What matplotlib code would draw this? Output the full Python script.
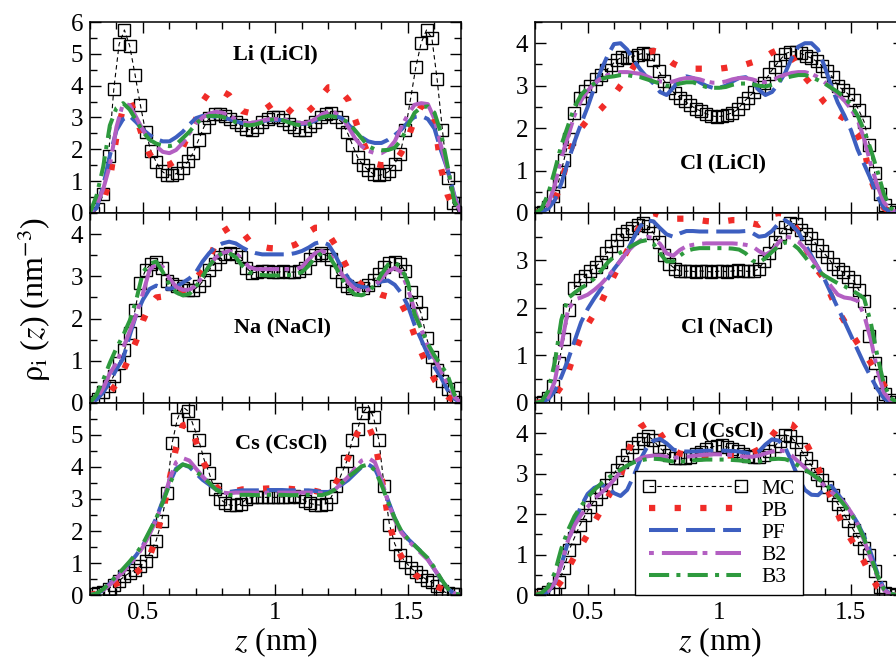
import numpy as np
import matplotlib
matplotlib.use("Agg")
import matplotlib.pyplot as plt
from matplotlib.ticker import MultipleLocator, FuncFormatter

# z grids (nm): MC histogram bins and theory curves
z_mc = np.round(0.31 + 0.02 * np.arange(70), 3)
z_th = np.round(0.30 + 0.025 * np.arange(57), 3)

# ---------------- Li (LiCl) ----------------
li_mc = [0.0, 0.12, 0.6, 1.8, 3.9, 5.3, 5.75, 5.25, 4.35, 3.4,
         2.55, 1.95, 1.6, 1.32, 1.2, 1.19, 1.25, 1.42, 1.62, 1.9,
         2.3, 2.7, 2.98, 3.12, 3.12, 3.05, 2.95, 2.85, 2.75, 2.65,
         2.6, 2.7, 2.85, 2.95, 3.0, 3.0, 2.92, 2.8, 2.7, 2.62,
         2.62, 2.72, 2.85, 3.0, 3.12, 3.15, 3.0, 2.85, 2.55, 2.15,
         1.75, 1.5, 1.35, 1.22, 1.18, 1.22, 1.32, 1.55, 1.85, 2.6,
         3.6, 4.6, 5.35, 5.75, 5.5, 4.2, 2.6, 1.1, 0.3, 0.02]
li_pb = [0.0, 0.05, 0.35, 1.05, 2.4, 3.3, 3.55, 3.0, 2.35, 1.85,
         1.58, 1.5, 1.52, 1.65, 2.05, 2.55, 2.95, 3.5, 3.8, 3.85,
         3.82, 3.7, 3.4, 3.2, 3.15, 3.15, 3.2, 3.35, 3.5, 3.45,
         3.25, 3.05, 3.05, 3.2, 3.4, 3.7, 3.95, 3.95, 3.8, 3.55,
         2.95, 2.35, 1.85, 1.55, 1.5, 1.52, 1.6, 1.9, 2.35, 2.95,
         3.35, 3.42, 2.9, 1.4, 0.55, 0.12, 0.0]
li_pf = [0.0, 0.15, 0.85, 1.8, 2.6, 2.95, 3.05, 2.85, 2.62, 2.45,
         2.32, 2.25, 2.25, 2.38, 2.55, 2.78, 2.98, 3.05, 3.05, 3.02,
         3.0, 2.95, 2.88, 2.82, 2.8, 2.82, 2.88, 2.92, 2.92, 2.92,
         2.88, 2.82, 2.8, 2.82, 2.9, 3.0, 3.05, 3.05, 2.98, 2.78,
         2.55, 2.38, 2.25, 2.2, 2.2, 2.3, 2.45, 2.62, 2.85, 3.02,
         3.05, 2.95, 2.65, 1.95, 1.35, 0.55, 0.0]
li_b2 = [0.0, 0.25, 0.75, 1.5, 2.7, 3.45, 3.38, 3.0, 2.6, 2.3,
         2.1, 1.92, 1.88, 1.98, 2.2, 2.5, 2.8, 3.0, 3.12, 3.18,
         3.15, 3.05, 2.95, 2.85, 2.82, 2.85, 2.9, 2.95, 2.95, 2.95,
         2.9, 2.85, 2.82, 2.85, 2.95, 3.1, 3.18, 3.15, 3.0, 2.7,
         2.35, 2.1, 1.95, 1.88, 1.88, 2.0, 2.25, 2.7, 3.1, 3.4,
         3.45, 3.42, 2.95, 2.1, 1.35, 0.5, 0.0]
li_b3 = [0.0, 0.55, 1.45, 2.75, 3.3, 3.45, 3.25, 2.9, 2.55, 2.3,
         2.18, 2.12, 2.1, 2.15, 2.35, 2.55, 2.8, 2.98, 3.05, 3.05,
         3.02, 2.95, 2.85, 2.78, 2.75, 2.78, 2.85, 2.92, 2.95, 2.92,
         2.85, 2.78, 2.75, 2.78, 2.88, 3.0, 3.05, 3.02, 2.95, 2.85,
         2.6, 2.35, 2.1, 2.0, 1.97, 1.98, 2.05, 2.3, 2.75, 3.15,
         3.32, 3.35, 3.15, 2.5, 1.45, 0.35, 0.0]

# ---------------- Na (NaCl) ----------------
na_mc = [0.03, 0.1, 0.25, 0.4, 0.65, 0.95, 1.25, 1.65, 2.2, 2.85,
         3.15, 3.3, 3.35, 3.2, 2.9, 2.82, 2.78, 2.72, 2.68, 2.68,
         2.76, 2.92, 3.15, 3.3, 3.45, 3.52, 3.55, 3.52, 3.45, 3.2,
         3.08, 3.1, 3.12, 3.12, 3.1, 3.1, 3.12, 3.1, 3.1, 3.12,
         3.2, 3.4, 3.5, 3.55, 3.5, 3.4, 3.1, 2.9, 2.78, 2.72,
         2.7, 2.72, 2.8, 2.92, 3.05, 3.22, 3.32, 3.33, 3.3, 3.12,
         2.62, 2.4, 2.12, 1.55, 1.1, 0.78, 0.52, 0.32, 0.13, 0.03]
na_pb = [0.0, 0.03, 0.1, 0.25, 0.45, 0.75, 1.1, 1.48, 1.95, 2.3,
         2.5, 2.52, 2.52, 2.56, 2.65, 2.78, 2.95, 3.15, 3.4, 3.8,
         4.05, 4.15, 4.15, 4.05, 3.85, 3.75, 3.7, 3.67, 3.66, 3.67,
         3.7, 3.75, 3.85, 4.05, 4.15, 4.15, 4.0, 3.75, 3.45, 3.15,
         2.95, 2.8, 2.7, 2.63, 2.56, 2.52, 2.5, 2.35, 2.05, 1.6,
         1.2, 0.85, 0.55, 0.32, 0.15, 0.05, 0.0]
na_pf = [0.0, 0.08, 0.25, 0.5, 0.8, 1.05, 1.6, 2.1, 2.45, 2.7,
         2.78, 2.72, 2.7, 2.75, 2.85, 2.95, 3.1, 3.35, 3.55, 3.7,
         3.78, 3.82, 3.78, 3.68, 3.6, 3.55, 3.52, 3.52, 3.52, 3.52,
         3.52, 3.55, 3.6, 3.68, 3.78, 3.82, 3.75, 3.5, 3.2, 2.95,
         2.8, 2.75, 2.73, 2.78, 2.88, 2.9, 2.8, 2.6, 2.3, 1.85,
         1.5, 1.15, 0.85, 0.6, 0.3, 0.1, 0.0]
na_b2 = [0.0, 0.1, 0.35, 0.7, 0.95, 1.3, 1.7, 2.1, 2.6, 3.15,
         3.3, 3.22, 2.95, 2.75, 2.68, 2.68, 2.78, 3.0, 3.25, 3.45,
         3.55, 3.6, 3.55, 3.4, 3.22, 3.17, 3.17, 3.17, 3.17, 3.17,
         3.17, 3.17, 3.22, 3.4, 3.55, 3.6, 3.55, 3.35, 3.05, 2.85,
         2.7, 2.65, 2.68, 2.78, 2.95, 3.12, 3.2, 3.1, 2.7, 2.2,
         1.75, 1.35, 1.05, 0.75, 0.45, 0.15, 0.0]
na_b3 = [0.0, 0.2, 0.55, 0.95, 1.3, 1.6, 1.95, 2.45, 3.1, 3.3,
         3.35, 3.1, 2.8, 2.62, 2.55, 2.58, 2.75, 3.0, 3.25, 3.45,
         3.55, 3.55, 3.45, 3.25, 3.1, 3.05, 3.03, 3.02, 3.02, 3.02,
         3.03, 3.05, 3.1, 3.25, 3.45, 3.55, 3.5, 3.25, 2.95, 2.7,
         2.57, 2.55, 2.62, 2.8, 3.05, 3.28, 3.33, 3.2, 2.85, 2.1,
         1.75, 1.4, 1.12, 0.9, 0.65, 0.2, 0.0]

# ---------------- Cs (CsCl) ----------------
cs_mc = [0.02, 0.05, 0.1, 0.2, 0.32, 0.45, 0.58, 0.7, 0.78, 0.9,
         1.05, 1.38, 1.7, 2.3, 3.2, 4.75, 5.5, 5.88, 5.75, 5.3,
         4.85, 4.25, 3.8, 3.3, 3.0, 2.88, 2.8, 2.8, 2.85, 3.0,
         3.05, 3.07, 3.05, 3.05, 3.05, 3.05, 3.07, 3.05, 3.1, 3.05,
         2.95, 2.87, 2.82, 2.81, 2.85, 3.05, 3.4, 3.8, 4.2, 4.85,
         5.2, 5.7, 5.92, 5.55, 4.85, 3.4, 2.2, 1.6, 1.25, 1.04,
         0.85, 0.72, 0.6, 0.48, 0.4, 0.27, 0.13, 0.05, 0.02, 0.02]
cs_pb = [0.0, 0.05, 0.15, 0.25, 0.35, 0.45, 0.55, 0.7, 0.9, 1.2,
         1.8, 2.6, 3.6, 4.6, 5.3, 5.35, 4.8, 4.2, 3.8, 3.4,
         3.2, 3.2, 3.25, 3.3, 3.3, 3.3, 3.32, 3.33, 3.33, 3.33,
         3.32, 3.3, 3.3, 3.28, 3.25, 3.2, 3.2, 3.45, 3.85, 4.3,
         4.9, 5.35, 5.3, 4.8, 3.7, 2.4, 1.6, 1.2, 0.9, 0.65,
         0.5, 0.4, 0.3, 0.2, 0.1, 0.03, 0.0]
cs_pf = [0.0, 0.04, 0.15, 0.35, 0.55, 0.78, 1.0, 1.25, 1.55, 1.95,
         2.4, 2.95, 3.5, 3.95, 4.08, 4.0, 3.8, 3.6, 3.45, 3.3,
         3.22, 3.22, 3.25, 3.27, 3.27, 3.27, 3.27, 3.28, 3.28, 3.28,
         3.27, 3.27, 3.27, 3.27, 3.25, 3.22, 3.22, 3.3, 3.45, 3.6,
         3.8, 4.0, 4.08, 3.95, 3.5, 2.95, 2.4, 2.0, 1.75, 1.55,
         1.35, 1.12, 0.8, 0.48, 0.2, 0.04, 0.0]
cs_b2 = [0.0, 0.05, 0.15, 0.32, 0.52, 0.72, 0.95, 1.2, 1.5, 1.9,
         2.35, 2.9, 3.6, 4.15, 4.28, 4.2, 3.95, 3.7, 3.5, 3.3,
         3.2, 3.18, 3.2, 3.2, 3.2, 3.2, 3.2, 3.2, 3.2, 3.2,
         3.2, 3.2, 3.2, 3.2, 3.2, 3.18, 3.2, 3.3, 3.5, 3.7,
         3.95, 4.2, 4.28, 4.15, 3.6, 2.9, 2.35, 1.95, 1.7, 1.5,
         1.3, 1.1, 0.8, 0.5, 0.2, 0.05, 0.0]
cs_b3 = [0.0, 0.05, 0.18, 0.38, 0.6, 0.82, 1.05, 1.3, 1.6, 2.0,
         2.4, 2.9, 3.45, 3.9, 4.08, 4.02, 3.85, 3.7, 3.5, 3.3,
         3.18, 3.12, 3.12, 3.13, 3.13, 3.12, 3.12, 3.13, 3.13, 3.13,
         3.12, 3.12, 3.13, 3.13, 3.12, 3.12, 3.18, 3.3, 3.5, 3.7,
         3.85, 4.02, 4.08, 3.9, 3.45, 2.9, 2.4, 2.0, 1.75, 1.55,
         1.35, 1.15, 0.85, 0.5, 0.2, 0.05, 0.0]

# ---------------- Cl (LiCl) ----------------
cl1_mc = [0.0, 0.03, 0.15, 0.4, 0.75, 1.25, 1.75, 2.35, 2.7, 2.88,
          3.0, 3.15, 3.25, 3.36, 3.48, 3.6, 3.67, 3.65, 3.68, 3.73,
          3.76, 3.74, 3.6, 3.35, 3.12, 2.95, 2.82, 2.72, 2.63, 2.54,
          2.46, 2.4, 2.34, 2.29, 2.27, 2.28, 2.32, 2.36, 2.44, 2.6,
          2.72, 2.84, 2.97, 3.07, 3.28, 3.45, 3.6, 3.75, 3.8, 3.8,
          3.76, 3.7, 3.65, 3.57, 3.47, 3.35, 3.2, 3.0, 2.9, 2.8,
          2.66, 2.42, 2.15, 1.6, 0.95, 0.45, 0.2, 0.07, 0.02, 0.0]
cl1_pb = [0.0, 0.05, 0.15, 0.3, 0.7, 1.3, 1.75, 2.0, 2.2, 2.3,
          2.45, 2.62, 2.78, 3.0, 3.2, 3.45, 3.68, 3.78, 3.82, 3.78,
          3.65, 3.52, 3.45, 3.42, 3.4, 3.4, 3.4, 3.4, 3.4, 3.42,
          3.45, 3.48, 3.5, 3.55, 3.6, 3.68, 3.78, 3.85, 3.85, 3.7,
          3.45, 3.2, 3.02, 2.8, 2.6, 2.45, 2.32, 2.22, 2.05, 1.85,
          1.5, 0.8, 0.4, 0.12, 0.03, 0.0, 0.0]
cl1_pf = [0.0, 0.03, 0.1, 0.3, 0.7, 1.2, 1.68, 2.1, 2.5, 2.95,
          3.35, 3.7, 3.98, 4.0, 3.85, 3.6, 3.38, 3.2, 3.05, 2.85,
          2.78, 2.95, 3.15, 3.22, 3.18, 3.08, 3.0, 2.95, 2.95, 3.0,
          3.1, 3.18, 3.2, 3.1, 2.9, 2.78, 2.85, 3.05, 3.3, 3.65,
          3.92, 4.0, 4.0, 3.85, 3.45, 3.0, 2.6, 2.3, 1.95, 1.5,
          1.15, 0.8, 0.4, 0.12, 0.03, 0.0, 0.0]
cl1_b2 = [0.0, 0.05, 0.2, 0.65, 1.3, 1.8, 2.3, 2.65, 2.88, 3.05,
          3.17, 3.25, 3.3, 3.32, 3.32, 3.3, 3.28, 3.22, 3.15, 3.1,
          3.08, 3.1, 3.15, 3.18, 3.18, 3.15, 3.1, 3.07, 3.07, 3.1,
          3.15, 3.18, 3.18, 3.15, 3.1, 3.08, 3.12, 3.2, 3.26, 3.3,
          3.32, 3.32, 3.28, 3.2, 3.08, 2.95, 2.8, 2.65, 2.45, 2.2,
          1.75, 1.15, 0.65, 0.25, 0.08, 0.02, 0.0]
cl1_b3 = [0.0, 0.1, 0.45, 1.0, 1.6, 2.05, 2.5, 2.78, 2.95, 3.05,
          3.15, 3.2, 3.22, 3.25, 3.25, 3.22, 3.2, 3.15, 3.1, 3.05,
          3.0, 3.0, 3.05, 3.08, 3.08, 3.02, 2.97, 2.95, 2.95, 2.97,
          3.02, 3.05, 3.05, 3.03, 3.0, 2.98, 3.02, 3.12, 3.18, 3.22,
          3.25, 3.25, 3.2, 3.13, 3.05, 2.95, 2.85, 2.72, 2.55, 2.3,
          1.95, 1.5, 1.0, 0.45, 0.12, 0.02, 0.0]

# ---------------- Cl (NaCl) ----------------
cl2_mc = [0.0, 0.02, 0.1, 0.35, 0.85, 1.35, 1.95, 2.42, 2.58, 2.68,
          2.78, 2.87, 2.97, 3.15, 3.3, 3.44, 3.55, 3.62, 3.69, 3.75,
          3.78, 3.72, 3.58, 3.38, 3.12, 2.93, 2.83, 2.78, 2.77, 2.78,
          2.76, 2.78, 2.77, 2.76, 2.77, 2.78, 2.76, 2.78, 2.79, 2.78,
          2.77, 2.78, 2.82, 2.98, 3.15, 3.38, 3.55, 3.7, 3.78, 3.77,
          3.65, 3.56, 3.47, 3.33, 3.2, 3.08, 2.93, 2.83, 2.75, 2.65,
          2.57, 2.38, 2.15, 1.4, 0.85, 0.45, 0.18, 0.06, 0.02, 0.0]
cl2_pb = [0.0, 0.02, 0.06, 0.15, 0.35, 0.63, 1.05, 1.4, 1.65, 1.88,
          2.1, 2.4, 2.68, 2.95, 3.2, 3.48, 3.75, 3.95, 4.0, 3.95,
          3.9, 3.88, 3.88, 3.88, 3.87, 3.85, 3.83, 3.82, 3.82, 3.83,
          3.85, 3.85, 3.82, 3.78, 3.75, 3.85, 3.97, 4.0, 3.98, 3.85,
          3.6, 3.3, 3.0, 2.78, 2.6, 2.25, 1.95, 1.72, 1.48, 1.26,
          1.05, 0.85, 0.62, 0.38, 0.15, 0.04, 0.0]
cl2_pf = [0.0, 0.02, 0.08, 0.25, 0.55, 0.9, 1.3, 1.7, 1.98, 2.2,
          2.4, 2.6, 2.82, 3.0, 3.2, 3.48, 3.72, 3.85, 3.82, 3.68,
          3.55, 3.5, 3.57, 3.62, 3.62, 3.61, 3.61, 3.61, 3.61, 3.61,
          3.61, 3.61, 3.62, 3.58, 3.5, 3.52, 3.62, 3.78, 3.85, 3.75,
          3.6, 3.35, 3.1, 2.85, 2.6, 2.3, 2.0, 1.72, 1.42, 1.12,
          0.82, 0.55, 0.3, 0.1, 0.02, 0.0, 0.0]
cl2_b2 = [0.0, 0.03, 0.12, 0.45, 1.2, 1.95, 2.18, 2.22, 2.28, 2.38,
          2.5, 2.65, 2.82, 3.0, 3.18, 3.32, 3.42, 3.5, 3.47, 3.35,
          3.15, 3.1, 3.22, 3.3, 3.33, 3.35, 3.36, 3.36, 3.36, 3.36,
          3.36, 3.35, 3.33, 3.3, 3.2, 3.12, 3.2, 3.38, 3.5, 3.48,
          3.4, 3.25, 3.05, 2.85, 2.65, 2.45, 2.28, 2.22, 2.2, 2.15,
          1.85, 1.35, 0.7, 0.22, 0.05, 0.0, 0.0]
cl2_b3 = [0.0, 0.03, 0.25, 0.85, 1.75, 2.2, 2.32, 2.42, 2.5, 2.62,
          2.78, 2.95, 3.08, 3.17, 3.25, 3.33, 3.4, 3.43, 3.35, 3.15,
          2.98, 2.98, 3.1, 3.2, 3.24, 3.26, 3.26, 3.26, 3.26, 3.26,
          3.25, 3.23, 3.15, 3.0, 2.95, 3.05, 3.18, 3.3, 3.38, 3.36,
          3.25, 3.08, 2.9, 2.78, 2.68, 2.6, 2.52, 2.46, 2.38, 2.3,
          2.2, 1.7, 1.0, 0.4, 0.1, 0.02, 0.0]

# ---------------- Cl (CsCl) ----------------
cl3_mc = [0.0, 0.02, 0.08, 0.15, 0.32, 0.66, 1.12, 1.42, 1.72, 1.97,
          2.18, 2.38, 2.56, 2.72, 2.9, 3.1, 3.28, 3.46, 3.65, 3.76,
          3.85, 3.93, 3.83, 3.66, 3.55, 3.46, 3.4, 3.38, 3.38, 3.42,
          3.48, 3.53, 3.6, 3.66, 3.69, 3.7, 3.66, 3.62, 3.55, 3.5,
          3.45, 3.42, 3.42, 3.47, 3.55, 3.68, 3.82, 3.96, 3.93, 3.78,
          3.6, 3.38, 3.2, 3.0, 2.85, 2.66, 2.47, 2.26, 2.04, 1.83,
          1.6, 1.38, 1.17, 1.0, 0.6, 0.2, 0.05, 0.02, 0.0, 0.0]
cl3_pb = [0.0, 0.02, 0.05, 0.12, 0.35, 0.65, 0.95, 1.22, 1.5, 1.8,
          2.08, 2.4, 2.68, 2.95, 3.45, 3.95, 4.15, 4.25, 4.2, 4.0,
          3.75, 3.58, 3.5, 3.47, 3.45, 3.45, 3.45, 3.45, 3.45, 3.45,
          3.45, 3.45, 3.47, 3.52, 3.6, 3.75, 3.95, 4.15, 4.27, 4.22,
          4.05, 3.82, 3.5, 3.15, 2.75, 2.4, 2.0, 1.65, 1.38, 1.12,
          0.82, 0.48, 0.2, 0.05, 0.01, 0.0, 0.0]
cl3_pf = [0.0, 0.02, 0.08, 0.3, 0.75, 1.3, 1.8, 2.2, 2.5, 2.65,
          2.72, 2.68, 2.52, 2.45, 2.6, 2.95, 3.35, 3.65, 3.82, 3.86,
          3.75, 3.6, 3.55, 3.55, 3.55, 3.56, 3.57, 3.57, 3.57, 3.57,
          3.56, 3.55, 3.52, 3.48, 3.55, 3.72, 3.85, 3.82, 3.65, 3.3,
          2.9, 2.6, 2.48, 2.47, 2.62, 2.7, 2.5, 2.28, 2.05, 1.78,
          1.45, 1.05, 0.55, 0.15, 0.02, 0.0, 0.0]
cl3_b2 = [0.0, 0.03, 0.1, 0.3, 0.75, 1.35, 1.72, 1.98, 2.18, 2.38,
          2.52, 2.67, 2.85, 3.05, 3.2, 3.3, 3.38, 3.43, 3.45, 3.45,
          3.42, 3.4, 3.4, 3.42, 3.44, 3.46, 3.47, 3.48, 3.48, 3.47,
          3.46, 3.44, 3.42, 3.42, 3.45, 3.5, 3.55, 3.58, 3.56, 3.45,
          3.3, 3.15, 3.0, 2.85, 2.7, 2.55, 2.42, 2.28, 2.05, 1.75,
          1.35, 0.9, 0.45, 0.12, 0.02, 0.0, 0.0]
cl3_b3 = [0.0, 0.05, 0.2, 0.55, 1.15, 1.6, 1.95, 2.2, 2.42, 2.6,
          2.75, 2.88, 3.0, 3.1, 3.2, 3.28, 3.33, 3.36, 3.37, 3.36,
          3.33, 3.3, 3.3, 3.31, 3.33, 3.34, 3.35, 3.35, 3.35, 3.35,
          3.34, 3.33, 3.31, 3.3, 3.3, 3.33, 3.36, 3.37, 3.36, 3.3,
          3.2, 3.1, 3.0, 2.88, 2.75, 2.6, 2.42, 2.22, 2.0, 1.75,
          1.4, 0.95, 0.5, 0.15, 0.03, 0.0, 0.0]

series_names = ["MC", "PB", "PF", "B2", "B3"]
styles = {
    "MC": dict(color="black", lw=0.8, ls=(0, (4, 3)), marker="s", ms=8,
               mfc="none", mec="black", mew=1.0),
    "PB": dict(color="#f02c28", lw=4.5, ls=(0, (1, 3.1)), dash_capstyle="butt"),
    "PF": dict(color="#3d5fc0", lw=2.9, ls=(0, (7.2, 2.0))),
    "B2": dict(color="#b35fc2", lw=2.9, ls=(0, (1.2, 2.0, 8.8, 1.3))),
    "B3": dict(color="#2e9a3e", lw=2.9, ls=(0, (5, 1.8, 1, 1.8))),
}

plt.rcParams["font.family"] = "Liberation Serif"
plt.rcParams["mathtext.fontset"] = "stix"

fig = plt.figure(figsize=(8.96, 6.59), dpi=100)

col_x = [(0.1004, 0.4141), (0.5971, 0.4114)]
row_y = [(0.6768, 0.2898), (0.3885, 0.2883), (0.0971, 0.2914)]

panels = [
    (0, 0, 6.0, range(0, 7), "Li (LiCl)", (0.5, 0.83), [li_mc, li_pb, li_pf, li_b2, li_b3]),
    (0, 1, 4.5, range(0, 5), "Na (NaCl)", (0.52, 0.395), [na_mc, na_pb, na_pf, na_b2, na_b3]),
    (0, 2, 6.0, range(0, 6), "Cs (CsCl)", (0.515, 0.79), [cs_mc, cs_pb, cs_pf, cs_b2, cs_b3]),
    (1, 0, 4.5, range(0, 5), "Cl (LiCl)", (0.51, 0.26), [cl1_mc, cl1_pb, cl1_pf, cl1_b2, cl1_b3]),
    (1, 1, 4.0, range(0, 4), "Cl (NaCl)", (0.521, 0.395), [cl2_mc, cl2_pb, cl2_pf, cl2_b2, cl2_b3]),
    (1, 2, 4.75, range(0, 5), "Cl (CsCl)", (0.499, 0.85), [cl3_mc, cl3_pb, cl3_pf, cl3_b2, cl3_b3]),
]

fmt = FuncFormatter(lambda v, p: "%g" % v)

for col, row, ytop, ylabels, label, lpos, data in panels:
    x0, w = col_x[col]
    y0, h = row_y[row]
    ax = fig.add_axes([x0, y0, w, h])
    handles = []
    for name, vals in zip(series_names, data):
        zz = z_mc if name == "MC" else z_th
        line, = ax.plot(zz, vals, label=name, **styles[name])
        handles.append(line)
    ax.set_xlim(0.3, 1.7)
    ax.set_ylim(0, ytop)
    ax.xaxis.set_major_locator(MultipleLocator(0.5))
    ax.xaxis.set_minor_locator(MultipleLocator(0.1))
    ax.set_yticks(list(ylabels))
    ax.yaxis.set_minor_locator(MultipleLocator(0.5))
    ax.yaxis.set_major_formatter(fmt)
    ax.xaxis.set_major_formatter(fmt)
    ax.tick_params(which="both", direction="in", top=True, right=True,
                   width=1.0, labelsize=18, pad=5)
    ax.tick_params(which="major", length=8)
    ax.tick_params(which="minor", length=5)
    for sp in ax.spines.values():
        sp.set_linewidth(1.1)
    if row < 2:
        ax.tick_params(labelbottom=False)
    else:
        ax.set_xlabel(r"$z$ (nm)", fontsize=23, labelpad=1)
    ax.text(lpos[0], lpos[1], label, transform=ax.transAxes, ha="center",
            va="center", fontsize=16, fontweight="bold")
    if col == 1 and row == 2:
        leg = ax.legend(handles=handles, loc="lower left", bbox_to_anchor=(0.271, 0.0),
                        borderaxespad=0, fontsize=15.5, numpoints=2, handlelength=4.9,
                        handletextpad=0.65, labelspacing=0.1, borderpad=0.35,
                        fancybox=False, framealpha=1, edgecolor="black")
        leg.get_frame().set_linewidth(1.0)

fig.text(0.038, 0.545, r"$\mathrm{\rho}_\mathrm{i}$ ($z$) (nm$^{-3}$)", rotation=90,
         ha="center", va="center", fontsize=23)

fig.savefig("out.png", dpi=100)
